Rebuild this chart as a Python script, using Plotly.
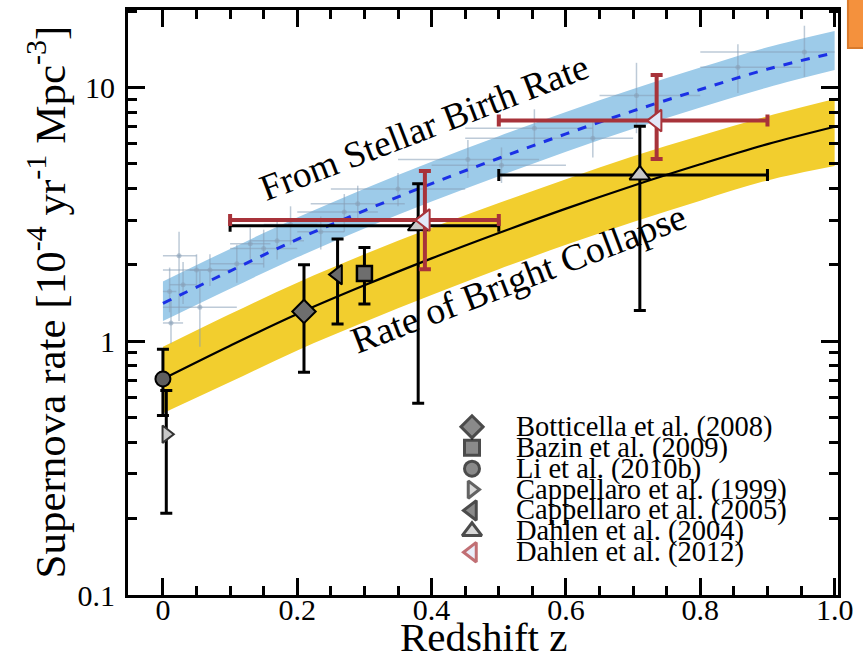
import plotly.graph_objects as go

# ---------------- data ----------------
z_grid = [0.0, 0.1, 0.2, 0.3, 0.4, 0.5, 0.6, 0.7, 0.8, 0.9, 1.0]
# "From Stellar Birth Rate" model (blue band + dashed line)
birth_mid = [1.41, 1.89, 2.52, 3.27, 4.18, 5.26, 6.56, 8.08, 9.81, 11.8, 13.7]
birth_hi = [1.72, 2.31, 3.07, 3.99, 5.10, 6.42, 8.00, 9.86, 11.97, 14.4, 16.7]
birth_lo = [1.20, 1.61, 2.14, 2.78, 3.55, 4.47, 5.58, 6.87, 8.34, 10.0, 11.7]
# "Rate of Bright Collapse" model (yellow band + solid line)
coll_mid = [0.71, 0.96, 1.28, 1.66, 2.12, 2.67, 3.33, 4.10, 4.98, 5.98, 7.00]
coll_hi = [0.95, 1.28, 1.70, 2.20, 2.80, 3.50, 4.35, 5.35, 6.45, 7.70, 9.00]
coll_lo = [0.52, 0.69, 0.92, 1.19, 1.52, 1.92, 2.40, 2.95, 3.58, 4.30, 4.90]

# faint star-formation-rate data points behind the blue band
sfr_z = [0.010, 0.012, 0.024, 0.030, 0.050, 0.055, 0.070, 0.110, 0.130, 0.150, 0.170, 0.190,
         0.235, 0.270, 0.290, 0.350, 0.454, 0.504, 0.553, 0.640, 0.705, 0.856, 0.955]
sfr_r = [1.57, 1.18, 2.17, 1.67, 1.91, 1.36, 1.91, 2.02, 2.42, 2.32, 2.49, 2.88,
         2.70, 3.23, 3.48, 3.98, 5.20, 4.94, 6.90, 6.30, 9.30, 12.0, 13.8]
sfr_r_hi = [1.95, 1.45, 2.70, 2.05, 2.20, 1.90, 2.20, 2.40, 2.80, 2.75, 2.95, 3.40,
            3.10, 3.80, 4.10, 4.60, 6.20, 5.80, 8.20, 7.50, 12.5, 14.8, 17.5]
sfr_r_lo = [1.30, 0.98, 1.20, 1.40, 1.65, 0.95, 1.65, 1.70, 2.10, 1.95, 2.10, 2.40,
            2.30, 2.70, 2.95, 3.40, 4.40, 4.20, 5.80, 5.30, 6.60, 9.50, 11.0]
sfr_z_lo = [0.0, 0.0, 0.0, 0.01, 0.0, 0.0, 0.04, 0.07, 0.10, 0.10, 0.13, 0.15,
            0.20, 0.20, 0.22, 0.25, 0.35, 0.40, 0.45, 0.45, 0.65, 0.80, 0.80]
sfr_z_hi = [0.02, 0.03, 0.05, 0.05, 0.10, 0.11, 0.10, 0.15, 0.16, 0.20, 0.21, 0.23,
            0.27, 0.32, 0.36, 0.45, 0.56, 0.60, 0.64, 0.70, 0.80, 0.95, 1.0]

# supernova rate measurements
bott_z, bott_r, bott_hi, bott_lo = [0.21], [1.31], [2.00], [0.755]
capp05_z, capp05_r, capp05_hi, capp05_lo = [0.26], [1.83], [2.53], [1.17]
bazin_z, bazin_r, bazin_hi, bazin_lo = [0.30], [1.85], [2.34], [1.40]
li_z, li_r, li_hi, li_lo = [0.0], [0.71], [0.93], [0.51]
capp99_z, capp99_r, capp99_hi, capp99_lo = [0.005], [0.43], [0.64], [0.21]
d04_z, d04_r, d04_hi, d04_lo = [0.38, 0.71], [2.85, 4.52], [4.17, 7.03], [0.57, 1.32]
d04_z_lo, d04_z_hi = [0.10, 0.50], [0.50, 0.90]
d12_z, d12_r, d12_hi, d12_lo = [0.39, 0.735], [3.00, 7.40], [4.68, 11.2], [1.92, 5.22]
d12_z_lo, d12_z_hi = [0.10, 0.50], [0.50, 0.90]

legend_names = ["Botticella et al. (2008)", "Bazin et al. (2009)", "Li et al. (2010b)",
                "Cappellaro et al. (1999)", "Cappellaro et al. (2005)",
                "Dahlen et al. (2004)", "Dahlen et al. (2012)"]

x_ticks = [0, 0.2, 0.4, 0.6, 0.8, 1.0]
x_ticktext = ["0", "0.2", "0.4", "0.6", "0.8", "1.0"]
y_ticks = [0.1, 1, 10]
y_ticktext = ["0.1", "1", "10"]

# ---------------- styles ----------------
FONT = "Liberation Serif"
YELLOW = "#F2CE2E"
LBLUE = "#9DCBE9"
DBLUE = "#1B30E6"
SFR_C = "rgba(135,158,182,0.55)"
RED = "#A8333A"
D12_FILL = "#E2E8F8"
BLACK_EB = dict(color="black", thickness=3, width=6)


def err(vals, hi, lo):
    return dict(type="data", symmetric=False,
                array=[h - v for h, v in zip(hi, vals)],
                arrayminus=[v - l for v, l in zip(vals, lo)])


fig = go.Figure()

# yellow band
fig.add_trace(go.Scatter(x=z_grid, y=coll_lo, mode="lines", line=dict(width=0, shape="spline"),
                         showlegend=False, hoverinfo="skip"))
fig.add_trace(go.Scatter(x=z_grid, y=coll_hi, mode="lines", line=dict(width=0, shape="spline"),
                         fill="tonexty", fillcolor=YELLOW, showlegend=False, hoverinfo="skip"))
# blue band
fig.add_trace(go.Scatter(x=z_grid, y=birth_lo, mode="lines", line=dict(width=0, shape="spline"),
                         showlegend=False, hoverinfo="skip"))
fig.add_trace(go.Scatter(x=z_grid, y=birth_hi, mode="lines", line=dict(width=0, shape="spline"),
                         fill="tonexty", fillcolor=LBLUE, showlegend=False, hoverinfo="skip"))

# faint SFR points
e_x = dict(type="data", symmetric=False,
           array=[h - v for h, v in zip(sfr_z_hi, sfr_z)],
           arrayminus=[v - l for v, l in zip(sfr_z, sfr_z_lo)],
           color=SFR_C, thickness=1.5, width=0)
e_y = err(sfr_r, sfr_r_hi, sfr_r_lo)
e_y.update(color=SFR_C, thickness=1.5, width=0)
fig.add_trace(go.Scatter(x=sfr_z, y=sfr_r, mode="markers",
                         marker=dict(size=5, color=SFR_C),
                         error_x=e_x, error_y=e_y, showlegend=False))

# model lines
fig.add_trace(go.Scatter(x=z_grid, y=birth_mid, mode="lines",
                         line=dict(color=DBLUE, width=3, dash="dash", shape="spline"),
                         showlegend=False))
fig.add_trace(go.Scatter(x=z_grid, y=coll_mid, mode="lines",
                         line=dict(color="black", width=2.2, shape="spline"),
                         showlegend=False))

# measurements
def add_pt(z, r, hi, lo, symbol, size, fill, outline="black", lw=2, eb=None, ex=None):
    ey = err(r, hi, lo)
    ey.update(eb if eb else BLACK_EB)
    kw = {}
    if ex is not None:
        kw["error_x"] = ex
    fig.add_trace(go.Scatter(x=z, y=r, mode="markers",
                             marker=dict(symbol=symbol, size=size, color=fill,
                                         line=dict(color=outline, width=lw)),
                             error_y=ey, showlegend=False, **kw))

add_pt(capp99_z, capp99_r, capp99_hi, capp99_lo, "triangle-right", 15, "#C8C8C8", "#333333")
add_pt(li_z, li_r, li_hi, li_lo, "circle", 15, "#5E5E5E")
add_pt(bott_z, bott_r, bott_hi, bott_lo, "diamond", 18, "#6E6E6E")
add_pt(capp05_z, capp05_r, capp05_hi, capp05_lo, "triangle-left", 17, "#6A6A6A")
add_pt(bazin_z, bazin_r, bazin_hi, bazin_lo, "square", 15, "#6E6E6E", lw=2.5)

ex04 = dict(type="data", symmetric=False,
            array=[h - v for h, v in zip(d04_z_hi, d04_z)],
            arrayminus=[v - l for v, l in zip(d04_z, d04_z_lo)],
            color="black", thickness=3, width=6)
add_pt(d04_z, d04_r, d04_hi, d04_lo, "triangle-up", 18, "#C8C8C8", ex=ex04)

ex12 = dict(type="data", symmetric=False,
            array=[h - v for h, v in zip(d12_z_hi, d12_z)],
            arrayminus=[v - l for v, l in zip(d12_z, d12_z_lo)],
            color=RED, thickness=4, width=6)
add_pt(d12_z, d12_r, d12_hi, d12_lo, "triangle-left", 19, D12_FILL, RED, lw=2,
       eb=dict(color=RED, thickness=4, width=6), ex=ex12)

# ---------------- manual legend (overlay paper-like axes) ----------------
leg_symbols = ["diamond", "square", "circle", "triangle-right", "triangle-left", "triangle-up", "triangle-left"]
leg_fills = ["#5A5A5A", "#5A5A5A", "#5A5A5A", "#C8C8C8", "#5A5A5A", "#C8C8C8", D12_FILL]
leg_lines = ["black", "black", "black", "#222222", "black", "black", RED]
leg_sizes = [17, 15, 15, 15, 17, 17, 17]
PLOT_L, PLOT_R, PLOT_T, PLOT_B = 128, 838, 7, 595
leg_mx = (472 - PLOT_L) / (PLOT_R - PLOT_L)
leg_tx = (514 - PLOT_L) / (PLOT_R - PLOT_L)
leg_rows = [(PLOT_B - (426 + 21 * i)) / (PLOT_B - PLOT_T) for i in range(len(legend_names))]
fig.add_trace(go.Scatter(x=[leg_mx] * len(legend_names), y=leg_rows, mode="markers",
                         xaxis="x2", yaxis="y2", showlegend=False, hoverinfo="skip",
                         marker=dict(symbol=leg_symbols, size=leg_sizes, color=leg_fills,
                                     line=dict(color=leg_lines, width=3))))
annotations = []
for name, yy in zip(legend_names, leg_rows):
    annotations.append(dict(text=name, x=leg_tx, y=yy, xref="paper", yref="paper",
                            xanchor="left", yanchor="middle", showarrow=False,
                            font=dict(family=FONT, size=28.5, color="black")))

# curve labels
annotations.append(dict(text="From Stellar Birth Rate", x=0.388, y=0.843, xref="x", yref="y",
                        textangle=-21, showarrow=False,
                        font=dict(family=FONT, size=37, color="black")))
annotations.append(dict(text="Rate of Bright Collapse", x=0.530, y=0.247, xref="x", yref="y",
                        textangle=-21, showarrow=False,
                        font=dict(family=FONT, size=37.5, color="black")))
# axis titles
annotations.append(dict(text="Supernova rate [10<sup>-4</sup> yr<sup>-1</sup> Mpc<sup>-3</sup>]",
                        x=(46 - PLOT_L) / (PLOT_R - PLOT_L), y=(PLOT_B - 301) / (PLOT_B - PLOT_T),
                        xref="paper", yref="paper", textangle=-90, showarrow=False,
                        xanchor="center", yanchor="middle",
                        font=dict(family=FONT, size=43, color="black")))
annotations.append(dict(text="Redshift z", x=0.5, y=(PLOT_B - 637) / (PLOT_B - PLOT_T),
                        xref="paper", yref="paper", showarrow=False,
                        xanchor="center", yanchor="middle",
                        font=dict(family=FONT, size=41, color="black")))

axis_common = dict(showline=True, linecolor="black", linewidth=3, mirror="ticks",
                   ticks="inside", ticklen=17, tickwidth=3, tickcolor="black",
                   showgrid=False, zeroline=False,
                   tickfont=dict(family=FONT, size=30, color="black"))

x_minor = [round(0.05 * k, 2) for k in range(1, 20) if k % 4 != 0]
y_minor = [m * d for d in (0.1, 1, 10) for m in range(2, 10) if m * d <= 20]

fig.update_layout(
    width=863, height=658,
    margin=dict(l=PLOT_L, r=863 - PLOT_R, t=PLOT_T, b=658 - PLOT_B),
    paper_bgcolor="white", plot_bgcolor="white",
    showlegend=False,
    font=dict(family=FONT, color="black"),
    xaxis=dict(range=[-0.052, 1.005], tickmode="array", tickvals=x_ticks, ticktext=x_ticktext,
               ticklabelstandoff=-14,
               minor=dict(tickmode="array", tickvals=x_minor, ticks="inside", ticklen=9,
                          tickwidth=3, tickcolor="black"),
               **axis_common),
    yaxis=dict(type="log", range=[-1, 1.305], tickmode="array", tickvals=y_ticks,
               ticktext=y_ticktext, ticklabelstandoff=4,
               minor=dict(tickmode="array", tickvals=y_minor, ticks="inside", ticklen=9,
                          tickwidth=3, tickcolor="black"),
               **axis_common),
    xaxis2=dict(overlaying="x", range=[0, 1], visible=False, fixedrange=True),
    yaxis2=dict(overlaying="y", range=[0, 1], visible=False, fixedrange=True),
    annotations=annotations,
    shapes=[dict(type="rect", xref="paper", yref="paper", x0=1.014, x1=1.07, y0=0.935, y1=1.03,
                 fillcolor="#F4913D", line=dict(color="#D87A2C", width=2), layer="above")],
)

fig.write_html("out.html")
